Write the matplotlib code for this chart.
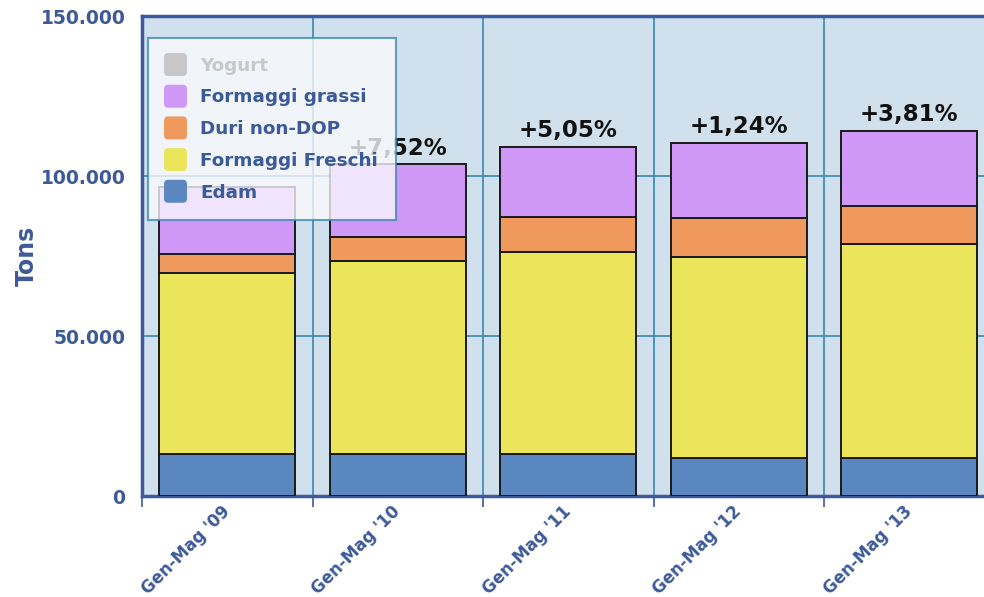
import matplotlib
matplotlib.use("Agg")
import matplotlib.pyplot as plt
import numpy as np
from matplotlib.patches import FancyBboxPatch
from matplotlib.legend_handler import HandlerPatch

categories = ["Gen-Mag '09", "Gen-Mag '10", "Gen-Mag '11", "Gen-Mag '12", "Gen-Mag '13"]
edam = [13000, 13000, 13000, 12000, 12000]
freschi = [56800, 60500, 63250, 62600, 66750]
duri = [5850, 7400, 11030, 12190, 11970]
grassi = [21000, 22700, 21690, 23440, 23340]
yogurt = [0, 0, 0, 0, 0]
growth = ["", "+7,52%", "+5,05%", "+1,24%", "+3,81%"]
yticks = [0, 50000, 100000, 150000]
ytick_labels = ["0", "50.000", "100.000", "150.000"]

series = [("Edam", edam, "#5b87c0"),
          ("Formaggi Freschi", freschi, "#ebe55c"),
          ("Duri non-DOP", duri, "#ef9a5c"),
          ("Formaggi grassi", grassi, "#cf98f7")]

txt = "#3d5a98"
grid = "#3a87b0"

fig = plt.figure(figsize=(9.84, 5.97), dpi=100)
ax = fig.add_axes([142/984, 1-496/597, 852.5/984, 480/597])
ax.set_facecolor("#d0e0ec")

x = np.arange(len(categories))
bottom = np.zeros(len(categories))
for name, vals, col in series:
    ax.bar(x, vals, width=0.8, bottom=bottom, color=col, edgecolor="#1a1a1a",
           linewidth=1.4, zorder=3)
    bottom += np.array(vals)

for xi, tot, lab in zip(x, bottom, growth):
    if lab:
        ax.text(xi, tot + 1500, lab, ha="center", va="bottom", fontsize=16.5,
                fontweight="bold", color="#111111", zorder=3)

ax.set_xlim(-0.5, len(categories) - 0.5)
ax.set_ylim(0, 150000)
ax.set_yticks(yticks)
ax.set_yticklabels(ytick_labels, fontsize=13.5, fontweight="bold", color=txt)
ax.tick_params(axis="y", length=0, pad=12)
ax.set_xticks(x)
ax.set_xticklabels(categories, rotation=45, ha="right", va="center",
                   rotation_mode="anchor", fontsize=12, fontweight="bold", color=txt)
ax.tick_params(axis="x", which="major", length=0, pad=9)
ax.set_xticks(np.arange(-0.5, len(categories)), minor=True)
ax.tick_params(axis="x", which="minor", length=8, width=1.2, color=txt, direction="out")

for xv in np.arange(0.5, len(categories)):
    ax.axvline(xv, color=grid, lw=1.2, zorder=1)
for yv in yticks[1:-1]:
    ax.axhline(yv, color=grid, lw=1.2, zorder=1)

for s in ["left", "top", "bottom"]:
    ax.spines[s].set_color("#3b5ba0")
    ax.spines[s].set_linewidth(2.5)
ax.spines["right"].set_visible(False)

ax.set_ylabel("Tons", fontsize=17, fontweight="bold", color=txt)
ax.yaxis.set_label_coords(-0.121, 0.5)

class RoundHandler(HandlerPatch):
    def create_artists(self, legend, orig_handle, xdescent, ydescent, width, height, fontsize, trans):
        s = min(width, height) * 1.4
        p = FancyBboxPatch((xdescent + (width - s) / 2 - xdescent * 2, (height - s) / 2 - ydescent),
                           s, s, boxstyle="round,pad=0,rounding_size=3",
                           facecolor=orig_handle.get_facecolor(), edgecolor="none",
                           transform=trans)
        return [p]

handles = [plt.Rectangle((0, 0), 1, 1, color="#c8c8c8")]
labels = ["Yogurt"]
for name, vals, col in reversed(series):
    handles.append(plt.Rectangle((0, 0), 1, 1, color=col))
    labels.append(name)

leg = ax.legend(handles, labels, loc="upper left", bbox_to_anchor=(148/984, 1-38/597),
                bbox_transform=fig.transFigure, prop={"weight": "bold", "size": 13.2},
                handler_map={plt.Rectangle: RoundHandler()}, handlelength=1.0,
                handleheight=1.0, labelspacing=0.72, handletextpad=0.85,
                borderpad=1.0, borderaxespad=0, fancybox=False, framealpha=0.78,
                facecolor="#fbfbff", edgecolor=grid)
leg.get_frame().set_linewidth(1.5)
leg.set_zorder(10)
for t, c in zip(leg.get_texts(), ["#c8c8c8"] + [txt] * 4):
    t.set_color(c)

fig.savefig("out.png", dpi=100)
